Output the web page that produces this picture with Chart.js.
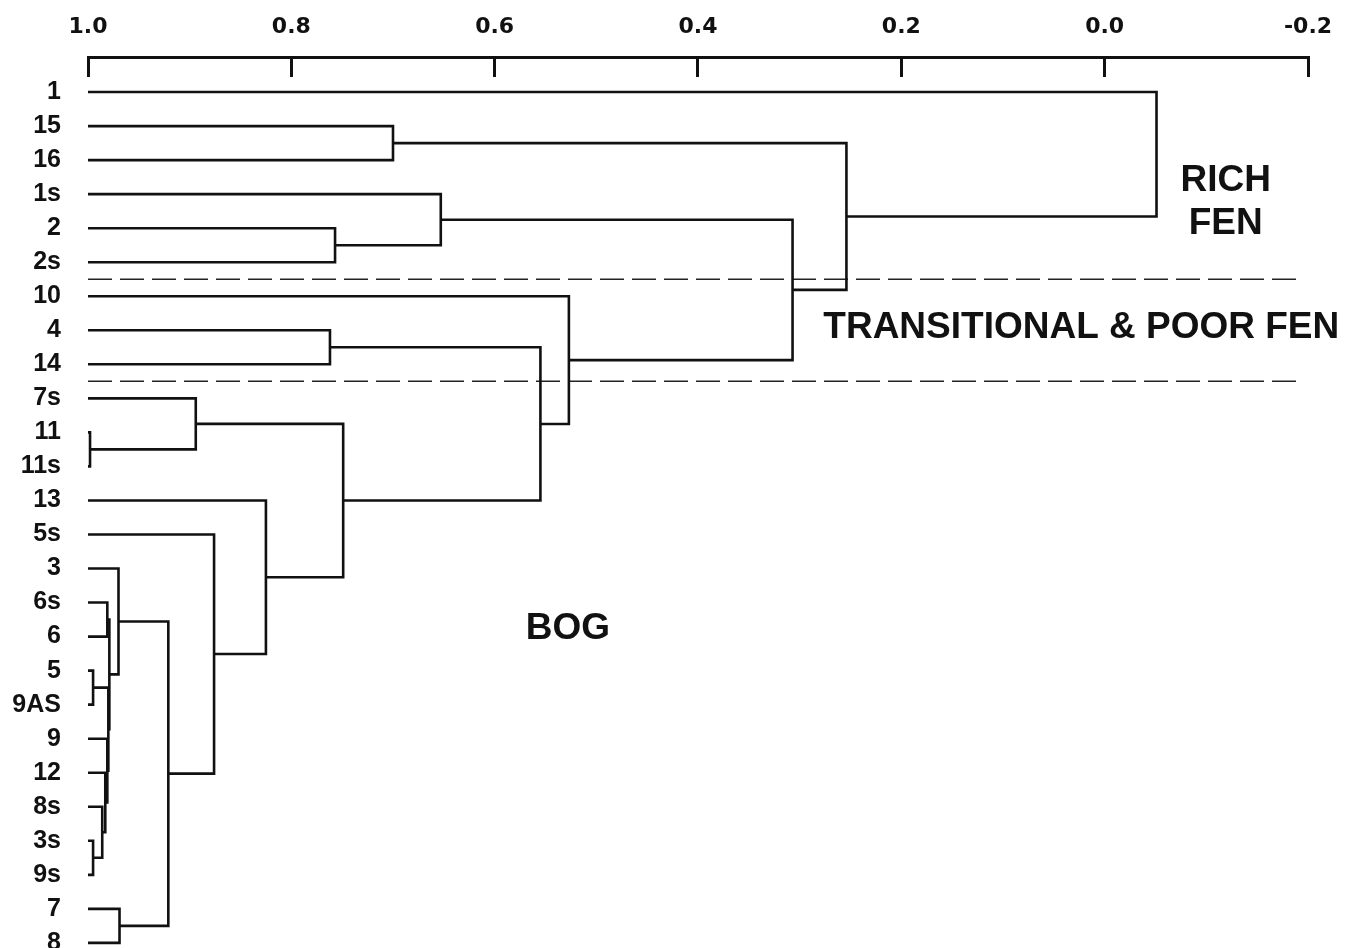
<!DOCTYPE html>
<html>
<head>
<meta charset="utf-8">
<script src="https://cdn.jsdelivr.net/npm/chart.js@4.4.1/dist/chart.umd.min.js"></script>
<style>
  html, body { margin: 0; padding: 0; background: #fff; overflow: hidden; }
  #wrap { width: 1349px; height: 948px; position: relative; }
</style>
</head>
<body>
<div id="wrap"><canvas id="dendro"></canvas></div>
<script>
// листья дендрограммы, сверху вниз
const leafNames = ['1', '15', '16', '1s', '2', '2s', '10', '4', '14', '7s', '11', '11s', '13',
                   '5s', '3', '6s', '6', '5', '9AS', '9', '12', '8s', '3s', '9s', '7', '8'];

// объединения: строка = лист, число = номер ранее созданного кластера
const joinA     = ['11', '7s', '5',   '3s',  '8s', '12',  '9',   2,     '6s',  8,     '3',   '7',   10,    '5s',  '13',  1,     '4',   16,    '10',  '2',   '1s',  20,    '15',  22,    '1'];
const joinB     = ['11s', 0,   '9AS', '9s',  3,    4,     5,     6,     '6',   7,     9,     '8',   11,    12,    13,    14,    '14',  15,    17,    '2s',  19,    18,    '16',  21,    23];
const joinLevel = [0.998, 0.894, 0.995, 0.995, 0.986, 0.983, 0.981, 0.980, 0.981, 0.979, 0.970, 0.969, 0.921, 0.876, 0.825, 0.749, 0.762, 0.555, 0.527, 0.757, 0.653, 0.307, 0.700, 0.254, -0.051];

// границы групп (между листьями)
const groupBreaks = [5.5, 8.5];
const axisTicks = [1.0, 0.8, 0.6, 0.4, 0.2, 0.0, -0.2];

// позиции узлов: лист -> (уровень 1.0, номер строки), кластер -> (уровень, середина детей)
const clusterPos = [];
function nodePos(ref){
    if (typeof ref === 'number') return clusterPos[ref];
    return {level: 1.0, row: leafNames.indexOf(ref)};
}

const datasets = [];
joinLevel.forEach(function(lv, i){
    const a = nodePos(joinA[i]);
    const b = nodePos(joinB[i]);
    clusterPos.push({level: lv, row: (a.row + b.row) / 2});
    datasets.push({
        data: [
            {x: a.level, y: a.row},
            {x: lv, y: a.row},
            {x: lv, y: b.row},
            {x: b.level, y: b.row}
        ],
        borderColor: '#111',
        borderWidth: 2.6,
        pointRadius: 0,
        tension: 0,
        fill: false
    });
});

groupBreaks.forEach(function(r){ // пунктирные границы
    datasets.push({
        data: [{x: 1.0, y: r}, {x: -0.19, y: r}],
        borderColor: '#222',
        borderWidth: 1.5,
        borderDash: [24, 8],
        pointRadius: 0,
        fill: false
    });
});

// подписи групп в координатах данных
const groupLabels = [
    {text: 'RICH', x: -0.119, y: 2.62},
    {text: 'FEN', x: -0.119, y: 3.88},
    {text: 'TRANSITIONAL & POOR FEN', x: 0.023, y: 6.92},
    {text: 'BOG', x: 0.528, y: 15.78}
];

const labelPlugin = {
    id: 'groupLabels',
    afterDraw(chart){
        const ctx = chart.ctx;
        const xs = chart.scales.x, ys = chart.scales.y;
        ctx.save();
        ctx.fillStyle = '#111';
        ctx.font = 'bold 37px "Liberation Sans", Arial, sans-serif';
        ctx.textAlign = 'center';
        ctx.textBaseline = 'middle';
        groupLabels.forEach(function(l){
            ctx.fillText(l.text, xs.getPixelForValue(l.x), ys.getPixelForValue(l.y));
        });
        ctx.restore();
    }
};

function noPadding(s){ // убираем автоматические отступы под подписи
    s.paddingLeft = 0; s.paddingRight = 0; s.paddingTop = 0; s.paddingBottom = 0;
}

const config = {
    type: 'line',
    data: {datasets: datasets},
    options: {
        responsive: true,
        maintainAspectRatio: false,
        animation: false,
        layout: {padding: {top: 0, right: 41, left: 0, bottom: 0}},
        plugins: {legend: {display: false}, tooltip: {enabled: false}},
        scales: {
            x: {
                type: 'linear',
                position: 'top',
                reverse: true,
                min: -0.2,
                max: 1.0,
                afterFit: function(s){ s.height = 57; noPadding(s); },
                afterBuildTicks: function(s){ s.ticks = axisTicks.map(function(v){ return {value: v}; }); },
                border: {display: true, color: '#111', width: 3},
                grid: {drawOnChartArea: false, drawTicks: true, tickLength: -20, tickWidth: 3, tickColor: '#111'},
                ticks: {
                    padding: 37,
                    color: '#111',
                    font: {family: '"DejaVu Sans", sans-serif', size: 22, weight: 'bold'},
                    callback: function(v){ return Math.abs(v) < 1e-9 ? '0.0' : Number(v).toFixed(1); }
                }
            },
            y: {
                type: 'linear',
                reverse: true,
                min: -1.03,
                max: 25.15,
                afterFit: function(s){ s.width = 88; noPadding(s); },
                afterBuildTicks: function(s){ s.ticks = leafNames.map(function(n, i){ return {value: i}; }); },
                border: {display: false},
                grid: {display: false, drawTicks: false},
                ticks: {
                    padding: 27,
                    color: '#111',
                    font: {family: '"Liberation Sans", Arial, sans-serif', size: 25, weight: 'bold'},
                    callback: function(v){ return leafNames[v]; }
                }
            }
        }
    },
    plugins: [labelPlugin]
};

const dendroChart = new Chart(document.getElementById('dendro'), config);
</script>
</body>
</html>
